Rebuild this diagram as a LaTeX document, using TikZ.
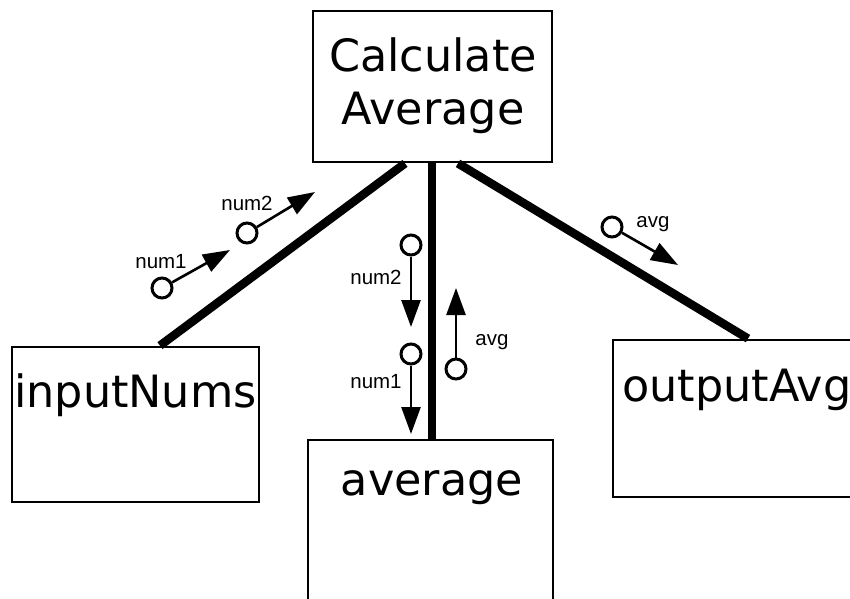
\documentclass[tikz,border=0pt]{standalone}
\usepackage{fontspec}
\setmainfont{DejaVu Sans}
\newfontfamily\smallfont{Liberation Sans}
\usetikzlibrary{arrows.meta}
\begin{document}
\begin{tikzpicture}[x=1pt,y=-1pt,
  box/.style={draw,line width=2.8pt,rectangle,inner sep=0pt},
  bigtext/.style={font=\fontsize{44.5}{53}\selectfont,align=center,inner sep=0pt},
  mainline/.style={line width=8.5pt},
  dot/.style={circle,draw,line width=3pt,minimum size=20pt,inner sep=0pt,fill=white},
  flow/.style={line width=2.6pt,-{Triangle[length=27pt,width=19pt]}},
  lbl/.style={font=\smallfont\fontsize{20.5}{22}\selectfont,inner sep=0pt}]
\clip (0,0) rectangle (850,598);
\fill[white] (0,0) rectangle (850,598);
% boxes
\node[box,minimum width=239pt,minimum height=151pt] (calc) at (432.5,86.5) {};
\node[bigtext] (calctxt) at (433,86) {Calculate\\Average};
\node[box,minimum width=247pt,minimum height=155pt] (inp) at (135.5,424.5) {};
\node[bigtext,anchor=west] (inptxt) at (14,395) {inputNums};
\node[box,minimum width=267pt,minimum height=157pt] (out) at (746.5,418.5) {};
\node[bigtext,anchor=west] (outtxt) at (622,390) {outputAvg};
\node[box,minimum width=245pt,minimum height=180pt] (avgbox) at (430.5,530) {};
\node[bigtext] (avgtxt) at (432,488) {average};
% main connectors
\draw[mainline] ([xshift=-27.5pt]calc.south) -- ([xshift=24.5pt]inp.north);
\draw[mainline] ([xshift=-0.5pt]calc.south) -- ([xshift=1.5pt]avgbox.north);
\draw[mainline] ([xshift=25.5pt]calc.south) -- ([xshift=1.5pt]out.north);
% data flows
\coordinate (t1) at (230,250);
\coordinate (t2) at (315,192);
\coordinate (t3) at (411,327);
\coordinate (t4) at (411,434);
\coordinate (t5) at (456,288);
\coordinate (t6) at (678,265);
\node[dot] (c1) at (162,288) {};
\node[dot] (c2) at (247,233) {};
\node[dot] (c3) at (411,245) {};
\node[dot] (c4) at (411,354) {};
\node[dot] (c5) at (456,369) {};
\node[dot] (c6) at (612,227) {};
\draw[flow] (c1) -- (t1);
\draw[flow] (c2) -- (t2);
\draw[flow] (c3) -- (t3);
\draw[flow] (c4) -- (t4);
\draw[flow] (c5) -- (t5);
\draw[flow] (c6) -- (t6);
\node[lbl] (l1) at (161,262) {num1};
\node[lbl] (l2) at (247,203) {num2};
\node[lbl] (l3) at (376,277) {num2};
\node[lbl] (l4) at (376,382) {num1};
\node[lbl] (l5) at (492,342) {avg};
\node[lbl] (l6) at (653,224) {avg};
\end{tikzpicture}
\end{document}
